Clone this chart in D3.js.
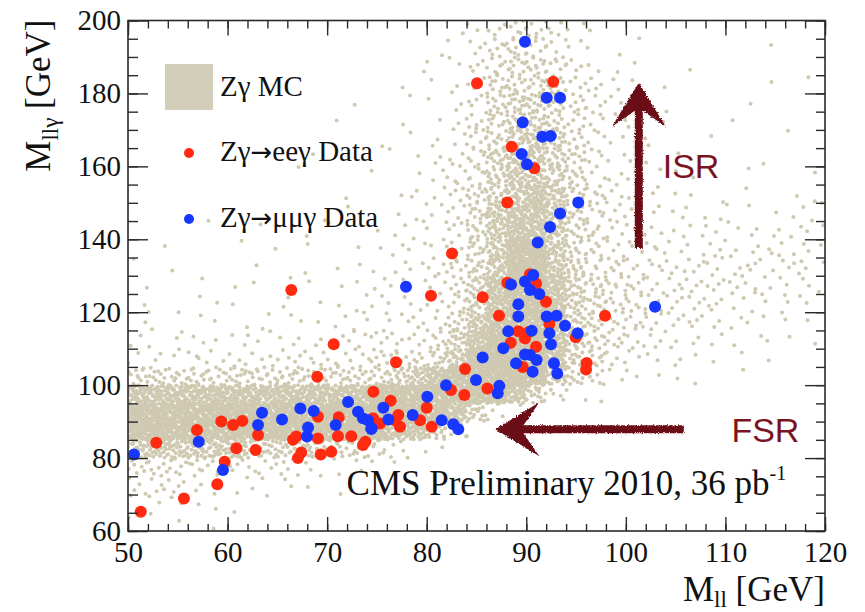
<!DOCTYPE html>
<html>
<head>
<meta charset="utf-8">
<script src="https://cdn.jsdelivr.net/npm/d3@7"></script>
<style>
  body { margin: 0; background: #fff; }
  text { font-family: "Liberation Serif", "Times New Roman", serif; fill: #111; }
</style>
</head>
<body>
<svg id="chart" width="865" height="612"></svg>
<script>
// ---- axis ranges and ticks ----
const xDomain = [50, 120];
const yDomain = [60, 200];
const xMajorTicks = [50, 60, 70, 80, 90, 100, 110, 120];
const yMajorTicks = [60, 80, 100, 120, 140, 160, 180, 200];
const xMinorStep = 2;
const yMinorStep = 5;

// ---- Zγ MC: 2D histogram drawn as scatter (ROOT "SCAT" style) ----
// bins are 2 GeV in M_ll (50..120, 35 columns) and 5 GeV in M_llγ,
// rows run from 195-200 at the top down to 60-65; digit = content level 0-9
const mcBinWidthX = 2;
const mcBinWidthY = 5;
const mcLevelRows = [
  "00000000000000001234432101000000000",
  "00000000000000011345432110000000100",
  "00000000000000112345543211001000000",
  "00000000000001012355553321100000101",
  "00000000000100112356654321010001000",
  "00000000001001012456654322100010000",
  "00000000000010122456764321100100010",
  "00000000010001123467765321110001000",
  "00000000100010123467765322111001001",
  "00000000001001223567875432211101011",
  "00001000010101223578875432222111122",
  "00000010101012223578875433222222222",
  "01000101010112223579975433322322322",
  "10100010101112234579976443333323232",
  "10010110111122234689986544333333222",
  "11011101111222234689986544333322221",
  "11111111212222335799986544333222111",
  "21221222222333346899986543322211111",
  "22232323333344457999986532221110100",
  "55555555555556789999975422111010000",
  "88888888888899999998632100000000000",
  "99999999999999998631000000000000000",
  "99999999999998863100000000000000000",
  "77777766665543210000000000000000000",
  "44444333322211000000000000000000000",
  "33322221111000000000000000000000000",
  "22211110000000000000000000000000000",
  "11101000000000000000000000000000000"
];
// events per bin for each content level
const mcLevelCounts = [0, 1, 2, 4, 7, 11, 17, 26, 40, 62];

// ---- Data: [M_ll, M_llγ] in GeV ----
const eeData = [
  [85.05,182.8],[92.71,183.2],[88.54,165.4],[90.81,159.5],[88.09,150.1],
  [97.91,119.0],[90.37,130.4],[88.09,128.1],[90.98,127.9],[91.98,122.9],
  [85.62,124.1],[87.26,119.0],[92.32,116.8],[89.20,114.8],[90.21,114.5],
  [89.87,112.8],[94.96,113.1],[88.44,111.6],[90.98,110.5],[96.07,106.1],
  [96.00,104.3],[89.64,105.0],[80.43,124.5],[82.54,136.1],[76.92,106.3],
  [83.85,104.4],[86.09,99.1],[82.44,98.7],[83.78,97.3],[74.64,98.2],
  [76.38,95.7],[80.00,93.8],[77.15,91.8],[77.32,88.6],[76.82,90.4],
  [79.33,90.4],[80.50,88.6],[75.31,89.5],[66.40,126.1],[70.66,111.2],
  [69.01,102.3],[69.08,91.3],[71.16,91.2],[74.61,90.9],[59.37,90.0],
  [60.55,89.1],[61.48,90.2],[63.06,86.3],[56.93,87.7],[52.84,84.2],
  [60.88,82.7],[62.82,82.2],[59.71,79.0],[58.97,72.8],[55.62,68.9],
  [51.28,65.3],[66.57,85.0],[66.90,85.9],[67.40,81.5],[67.07,80.0],
  [69.08,85.4],[71.09,86.0],[69.35,81.0],[70.42,81.7],[72.43,86.0],
  [73.60,83.6],[73.84,84.5]
];
const mumuData = [
  [89.87,194.2],[92.05,178.8],[93.39,178.8],[89.64,172.0],[91.61,168.1],
  [92.45,168.3],[89.54,163.4],[90.07,160.6],[95.22,150.1],[93.39,147.1],
  [92.38,143.4],[91.15,139.1],[102.93,121.5],[90.70,130.2],[88.47,127.6],
  [89.87,128.4],[90.37,126.1],[91.31,125.0],[89.20,122.2],[89.20,118.8],
  [92.05,118.8],[93.05,119.0],[93.89,116.3],[88.19,114.8],[90.54,114.9],
  [92.32,114.2],[95.16,114.2],[87.69,110.1],[92.48,111.2],[85.62,107.6],
  [89.87,108.4],[90.37,108.3],[91.04,106.9],[88.97,106.0],[92.78,106.0],
  [90.64,103.7],[93.11,103.2],[77.92,127.0],[84.95,101.4],[87.29,99.8],
  [87.13,97.8],[81.94,100.0],[80.06,96.8],[75.64,93.8],[78.59,91.8],
  [81.50,90.4],[82.67,89.3],[83.17,87.9],[74.47,88.2],[76.15,90.6],
  [72.10,95.4],[63.46,92.4],[67.31,93.6],[65.47,90.6],[68.65,92.9],
  [73.10,92.7],[73.60,90.9],[63.06,89.1],[57.10,84.5],[50.60,81.0],
  [59.54,76.7],[68.08,88.4],[67.98,85.9],[70.86,89.1],[74.10,90.4],
  [74.43,88.0]
];

// ---- annotations (GeV) ----
const isrArrow = { x: 101.3, from: 137.6, to: 182.9 };
const fsrArrow = { y: 87.9, from: 105.8, to: 86.9 };
const isrLabel = { x: 103.7, y: 156.8, text: "ISR" };
const fsrLabel = { x: 110.6, y: 84.5, text: "FSR" };
const cmsLabel = { x: 71.95, y: 69.9 };

// ---- layout ----
const svg = d3.select("#chart");
const plot = { left: 128, right: 825, top: 20.5, bottom: 531 };

const x = d3.scaleLinear().domain(xDomain).range([plot.left, plot.right]);
const y = d3.scaleLinear().domain(yDomain).range([plot.bottom, plot.top]);

svg.append("defs").html(`
  <clipPath id="plotClip"><rect x="${plot.left}" y="${plot.top}" width="${plot.right - plot.left}" height="${plot.bottom - plot.top}"/></clipPath>
  <filter id="rough" x="-10%" y="-10%" width="120%" height="120%">
    <feTurbulence type="fractalNoise" baseFrequency="0.8" numOctaves="2" seed="3" result="noise"/>
    <feDisplacementMap in="SourceGraphic" in2="noise" scale="3.5" xChannelSelector="R" yChannelSelector="G"/>
  </filter>`);

// ---- MC scatter: each bin's events spread evenly over the bin ----
function halton(i, base) {
  let f = 1, r = 0;
  while (i > 0) { f /= base; r += f * (i % base); i = Math.floor(i / base); }
  return r;
}
const mcPoints = [];
mcLevelRows.forEach((row, j) => {
  const yTop = yDomain[1] - j * mcBinWidthY;
  Array.from(row).forEach((ch, i) => {
    const n = mcLevelCounts[+ch];
    const x0 = xDomain[0] + i * mcBinWidthX;
    const offset = (i * 37 + j * 61) % 97 + 1;
    for (let k = 0; k < n; k++) {
      mcPoints.push([x0 + halton(k + offset, 2) * mcBinWidthX,
                     yTop - halton(k + offset, 3) * mcBinWidthY]);
    }
  });
});

const gPlot = svg.append("g").attr("clip-path", "url(#plotClip)");
gPlot.append("g").selectAll("circle").data(mcPoints).join("circle")
  .attr("cx", d => x(d[0])).attr("cy", d => y(d[1]))
  .attr("r", 2).attr("fill", "#cfc9b1");

// ---- arrows ----
function arrowPath(tx, ty, bx, by) {
  const len = Math.hypot(tx - bx, ty - by);
  const ux = (tx - bx) / len, uy = (ty - by) / len;   // toward tip
  const vx = -uy, vy = ux;                            // perpendicular
  const headLen = 44, headHalf = 27, notch = 28, shaftHalf = 4;
  const pts = [
    [0, 0], [-headLen, headHalf], [-notch, shaftHalf], [-len, shaftHalf],
    [-len, -shaftHalf], [-notch, -shaftHalf], [-headLen, -headHalf]
  ].map(([u, v]) => [tx + u * ux + v * vx, ty + u * uy + v * vy]);
  return "M" + pts.map(p => p.join(",")).join("L") + "Z";
}
const arrowColor = "#6b0b16";
gPlot.append("path")
  .attr("d", arrowPath(x(isrArrow.x), y(isrArrow.to), x(isrArrow.x), y(isrArrow.from)))
  .attr("fill", arrowColor).attr("filter", "url(#rough)");
gPlot.append("path")
  .attr("d", arrowPath(x(fsrArrow.to), y(fsrArrow.y), x(fsrArrow.from), y(fsrArrow.y)))
  .attr("fill", arrowColor).attr("filter", "url(#rough)");

[isrLabel, fsrLabel].forEach(l => {
  svg.append("text").attr("x", x(l.x)).attr("y", y(l.y))
    .style("font-family", '"Liberation Sans", Arial, sans-serif')
    .style("font-size", "34px").style("fill", "#7a1420")
    .text(l.text);
});

// ---- data points ----
gPlot.append("g").selectAll("circle").data(eeData).join("circle")
  .attr("cx", d => x(d[0])).attr("cy", d => y(d[1]))
  .attr("r", 6).attr("fill", "#ff2a10");
gPlot.append("g").selectAll("circle").data(mumuData).join("circle")
  .attr("cx", d => x(d[0])).attr("cy", d => y(d[1]))
  .attr("r", 6).attr("fill", "#1736ff");

// ---- axes (ticks inward on all four sides) ----
const axisColor = "#2a2a2a";
function styleAxis(g) {
  g.select(".domain").remove();
  g.selectAll(".tick line").attr("stroke", axisColor).attr("stroke-width", 1.4);
  g.selectAll(".tick text").style("font-size", "29px")
    .style("font-family", '"Liberation Serif", "Times New Roman", serif').attr("fill", "#111");
}
const xMinor = d3.range(xDomain[0], xDomain[1] + 0.001, xMinorStep);
const yMinor = d3.range(yDomain[0], yDomain[1] + 0.001, yMinorStep);

svg.append("g").attr("transform", `translate(0,${plot.bottom})`)
  .call(d3.axisBottom(x).tickValues(xMinor).tickSize(-7).tickFormat("")).call(styleAxis);
svg.append("g").attr("transform", `translate(0,${plot.bottom})`)
  .call(d3.axisBottom(x).tickValues(xMajorTicks).tickSize(-14).tickPadding(10).tickFormat(d3.format("d")))
  .call(styleAxis);
svg.append("g").attr("transform", `translate(0,${plot.top})`)
  .call(d3.axisTop(x).tickValues(xMinor).tickSize(-8).tickFormat("")).call(styleAxis);
svg.append("g").attr("transform", `translate(0,${plot.top})`)
  .call(d3.axisTop(x).tickValues(xMajorTicks).tickSize(-15).tickFormat("")).call(styleAxis);

svg.append("g").attr("transform", `translate(${plot.left},0)`)
  .call(d3.axisLeft(y).tickValues(yMinor).tickSize(-10).tickFormat("")).call(styleAxis);
svg.append("g").attr("transform", `translate(${plot.left},0)`)
  .call(d3.axisLeft(y).tickValues(yMajorTicks).tickSize(-20).tickPadding(7).tickFormat(d3.format("d")))
  .call(styleAxis);
svg.append("g").attr("transform", `translate(${plot.right},0)`)
  .call(d3.axisRight(y).tickValues(yMinor).tickSize(-9).tickFormat("")).call(styleAxis);
svg.append("g").attr("transform", `translate(${plot.right},0)`)
  .call(d3.axisRight(y).tickValues(yMajorTicks).tickSize(-20).tickFormat("")).call(styleAxis);

svg.append("rect")
  .attr("x", plot.left).attr("y", plot.top)
  .attr("width", plot.right - plot.left).attr("height", plot.bottom - plot.top)
  .attr("fill", "none").attr("stroke", axisColor).attr("stroke-width", 1.6);

// ---- axis titles ----
const xTitle = svg.append("text").attr("x", plot.right).attr("y", 601)
  .attr("text-anchor", "end").style("font-size", "35px");
xTitle.append("tspan").text("M");
xTitle.append("tspan").attr("dy", 6).style("font-size", "23px").text("ll");
xTitle.append("tspan").attr("dy", -6).text(" [GeV]");

const yTitle = svg.append("text")
  .attr("transform", `translate(50,${plot.top - 1}) rotate(-90)`)
  .attr("text-anchor", "end").style("font-size", "35px");
yTitle.append("tspan").text("M");
yTitle.append("tspan").attr("dy", 8).style("font-size", "23px").text("llγ");
yTitle.append("tspan").attr("dy", -8).text(" [GeV]");

// ---- CMS label ----
const cms = svg.append("text").attr("x", x(cmsLabel.x)).attr("y", y(cmsLabel.y))
  .style("font-size", "35px");
cms.append("tspan").text("CMS Preliminary 2010, 36 pb");
cms.append("tspan").attr("dy", -15).style("font-size", "20px").text("-1");

// ---- legend ----
const arrowFont = '"DejaVu Sans", sans-serif';
const legend = svg.append("g");
legend.append("rect").attr("x", 165).attr("y", 64).attr("width", 48).attr("height", 46)
  .attr("fill", "#d3ceb9");
legend.append("text").attr("x", 220).attr("y", 96).style("font-size", "29px").text("Zγ MC");

function legendEntry(cy, color, parts) {
  legend.append("circle").attr("cx", 189).attr("cy", cy).attr("r", 5).attr("fill", color);
  const t = legend.append("text").attr("x", 220).attr("y", cy + 8).style("font-size", "29px");
  t.append("tspan").text(parts[0]);
  t.append("tspan").style("font-family", arrowFont).style("font-size", "26px").text("→");
  t.append("tspan").text(parts[1]);
}
legendEntry(153, "#ff2a10", ["Zγ", "eeγ Data"]);
legendEntry(219, "#1736ff", ["Zγ", "μμγ Data"]);
</script>
</body>
</html>
